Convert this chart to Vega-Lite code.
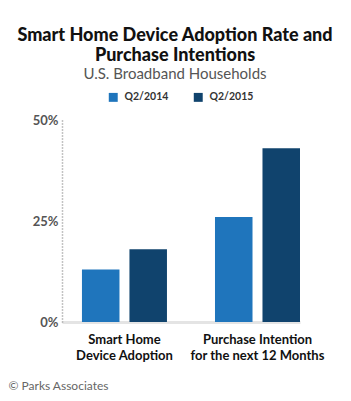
{
  "$schema": "https://vega.github.io/schema/vega-lite/v6.json",
  "width": 238,
  "height": 202,
  "autosize": {"type": "none"},
  "padding": {"left": 62, "top": 120, "right": 51, "bottom": 79},
  "background": "white",
  "title": {
    "text": ["Smart Home Device Adoption Rate and", "Purchase Intentions"],
    "subtitle": "U.S. Broadband Households",
    "anchor": "middle",
    "dx": -6,
    "offset": 10,
    "font": "Lato",
    "fontSize": 18,
    "fontWeight": 900,
    "color": "#111111",
    "lineHeight": 20,
    "subtitleFont": "Lato",
    "subtitleFontSize": 15,
    "subtitleColor": "#555555",
    "subtitlePadding": 2
  },
  "data": {
    "values": [
      {"category": "Smart Home|Device Adoption", "period": "Q2/2014", "rate": 13},
      {"category": "Smart Home|Device Adoption", "period": "Q2/2015", "rate": 18},
      {"category": "Purchase Intention|for the next 12 Months", "period": "Q2/2014", "rate": 26},
      {"category": "Purchase Intention|for the next 12 Months", "period": "Q2/2015", "rate": 43}
    ]
  },
  "mark": {"type": "bar"},
  "encoding": {
    "x": {
      "field": "category",
      "type": "nominal",
      "sort": null,
      "scale": {"paddingInner": 0.361, "paddingOuter": 0.075, "align": 1},
      "axis": {
        "title": "© Parks Associates",
        "titleAnchor": "start",
        "titleAlign": "left",
        "titleX": -54,
        "titleY": 58,
        "titleFont": "Lato",
        "titleFontSize": 12,
        "titleFontWeight": "normal",
        "titleColor": "#666666",
        "labelExpr": "split(datum.label, '|')",
        "labelAngle": 0,
        "labelFont": "Lato",
        "labelFontSize": 13,
        "labelFontWeight": "bold",
        "labelColor": "#111111",
        "labelPadding": 11,
        "labelLineHeight": 16,
        "ticks": false,
        "domainColor": "#e4e4e4",
        "domainWidth": 3
      }
    },
    "xOffset": {
      "field": "period",
      "type": "nominal",
      "scale": {"paddingInner": 0.21}
    },
    "y": {
      "field": "rate",
      "type": "quantitative",
      "scale": {"domain": [0, 50], "nice": false},
      "axis": {
        "title": null,
        "values": [0, 25, 50],
        "labelExpr": "datum.value + '%'",
        "labelFont": "Lato",
        "labelFontSize": 13,
        "labelFontWeight": "bold",
        "labelColor": "#555555",
        "labelPadding": 4,
        "ticks": false,
        "grid": false,
        "domainColor": "#888888",
        "domainDash": [1, 2],
        "domainWidth": 1.5
      }
    },
    "color": {
      "field": "period",
      "type": "nominal",
      "scale": {"range": ["#1f75bc", "#10436d"]},
      "legend": {
        "title": null,
        "orient": "none",
        "legendX": 46,
        "legendY": -28,
        "direction": "horizontal",
        "symbolType": "square",
        "symbolSize": 80,
        "symbolStrokeWidth": 0,
        "labelFont": "Lato",
        "labelFontSize": 10.5,
        "labelFontWeight": "bold",
        "labelColor": "#333333",
        "columnPadding": 24,
        "labelOffset": 6
      }
    }
  },
  "config": {"view": {"stroke": null}}
}
